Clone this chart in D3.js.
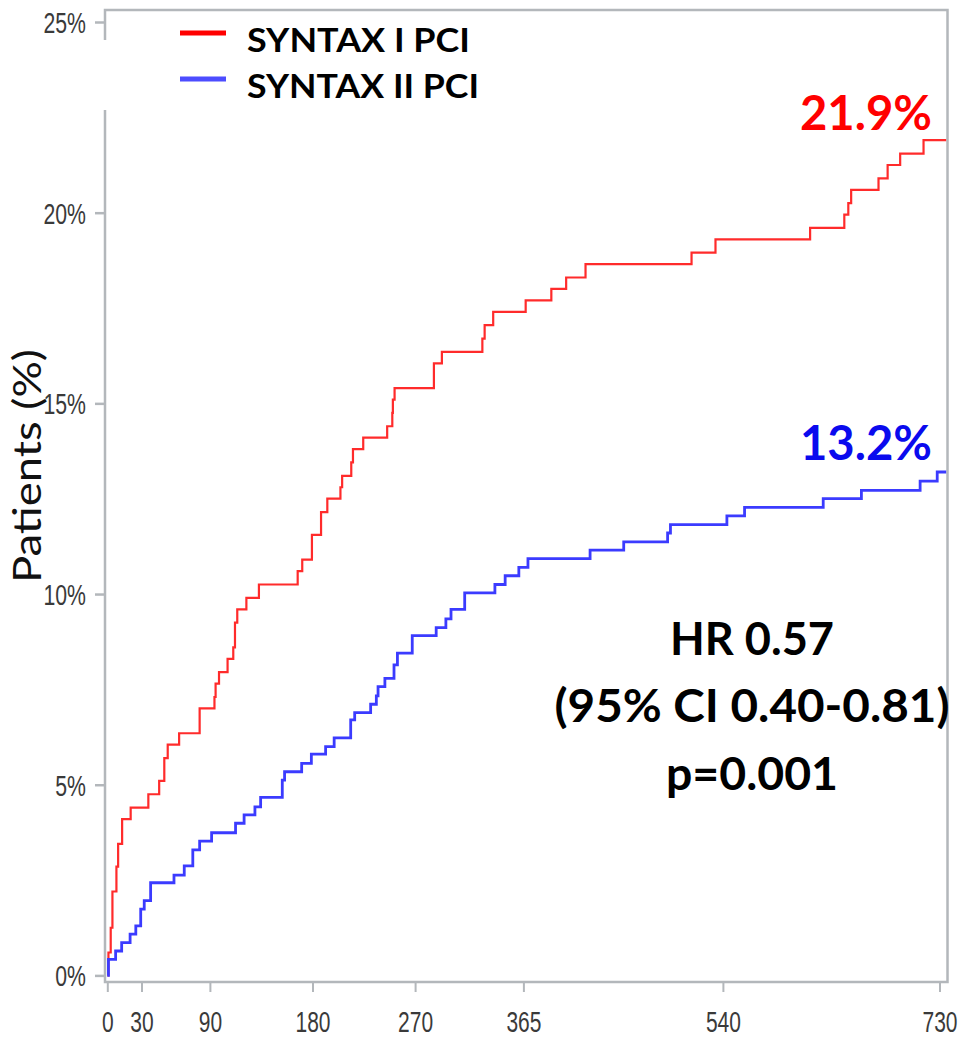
<!DOCTYPE html>
<html>
<head>
<meta charset="utf-8">
<script src="https://cdn.jsdelivr.net/npm/d3@7"></script>
<style>
  body { margin: 0; background: #fff; }
  svg { display: block; }
</style>
</head>
<body>
<script>
// ---- Data -------------------------------------------------------------
const dayTicks = [0, 30, 90, 180, 270, 365, 540, 730];
const pctTicks = [0, 5, 10, 15, 20, 25];
const seriesNames = ["SYNTAX I PCI", "SYNTAX II PCI"];
const seriesColors = ["#ff2b2b", "#3b3bff"];
const legendColors = ["#ff0000", "#4d4dff"];
const labelColors = ["#ff0000", "#0a0aee"];
const followUpEnd = 736;

// Kaplan-Meier cumulative event rate, SYNTAX I PCI (day of step, % after step)
const syntax1Days = [0, 1, 3, 4.5, 8, 9.5, 13, 20.5, 36, 45.5, 50, 53, 63, 81, 94, 95, 98, 105.5,
  110.5, 112, 114, 122, 133, 167, 171, 179.5, 187.5, 193, 204.5, 206, 214, 215.5, 224.5, 245.5,
  250, 250.5, 252, 286.5, 293.5, 329, 331, 338.5, 367, 389.5, 402.5, 419.5, 512.5, 533.5, 616.5,
  646.5, 650, 652.5, 676.5, 684.5, 695.5, 716];
const syntax1Pct = [0, 0.6, 1.25, 2.2, 2.85, 3.45, 4.1, 4.4, 4.75, 5.1, 5.7, 6.05, 6.35, 7.0, 7.3,
  7.65, 7.95, 8.3, 8.6, 9.25, 9.6, 9.9, 10.25, 10.6, 10.9, 11.55, 12.15, 12.5, 12.8, 13.1, 13.45,
  13.8, 14.1, 14.4, 14.75, 15.1, 15.4, 16.05, 16.35, 16.7, 17.05, 17.4, 17.7, 18.0, 18.3, 18.65,
  18.95, 19.3, 19.6, 19.95, 20.25, 20.6, 20.9, 21.25, 21.55, 21.9];

// Kaplan-Meier cumulative event rate, SYNTAX II PCI
const syntax2Days = [0, 1, 7.3, 12.6, 20, 25, 29.3, 32.4, 38, 58.5, 67.5, 75, 81, 91.5, 112.5, 120,
  129.5, 134.5, 153.5, 155.5, 170.5, 179, 191.5, 199, 213.5, 217, 231, 236, 237.5, 243.5, 251.5,
  254.5, 267.5, 288.5, 297, 301.5, 313.5, 340, 349, 361, 369, 423.5, 453, 491.5, 494, 543.5, 559,
  628, 661.5, 713, 728];
const syntax2Pct = [0, 0.42, 0.64, 0.86, 1.08, 1.3, 1.74, 1.96, 2.43, 2.63, 2.87, 3.29, 3.52, 3.74,
  3.99, 4.21, 4.42, 4.67, 5.12, 5.34, 5.56, 5.8, 6.0, 6.23, 6.7, 6.89, 7.11, 7.33, 7.57, 7.79, 8.14,
  8.45, 8.91, 9.12, 9.35, 9.6, 10.03, 10.25, 10.48, 10.7, 10.93, 11.15, 11.37, 11.6, 11.82, 12.05,
  12.27, 12.5, 12.72, 12.96, 13.2];

const finalLabels = ["21.9%", "13.2%"];
const statLines = ["HR 0.57", "(95% CI 0.40-0.81)", "p=0.001"];
const axisTitle = "Patients (%)";

// ---- Layout -----------------------------------------------------------
const W = 960, H = 1037;
const frame = { left: 105, right: 947.5, top: 10, bottom: 982 };
const frameColor = "#b3b7bb";
const boldFont = "Lato, 'Open Sans', sans-serif";
const tickFont = "'Liberation Sans', Arial, sans-serif";

const x = d3.scaleLinear().domain([0, 730]).range([107.3, 939.5]);
const y = d3.scaleLinear().domain([0, 25]).range([975.4, 22]);

const svg = d3.select("body").append("svg")
  .attr("width", W).attr("height", H);

svg.append("rect").attr("width", W).attr("height", H).attr("fill", "#fff");

// plot frame
svg.append("rect")
  .attr("x", frame.left).attr("y", frame.top)
  .attr("width", frame.right - frame.left)
  .attr("height", frame.bottom - frame.top)
  .attr("fill", "none")
  .attr("stroke", frameColor)
  .attr("stroke-width", 2.5);

svg.append("clipPath").attr("id", "plot-area")
  .append("rect")
  .attr("x", frame.left).attr("y", frame.top)
  .attr("width", frame.right - frame.left - 1)
  .attr("height", frame.bottom - frame.top);

// ---- Axes -------------------------------------------------------------
const yAxis = d3.axisLeft(y).tickValues(pctTicks).tickSize(9).tickFormat(d => d + "%");
const gy = svg.append("g")
  .attr("transform", `translate(${frame.left - 1},0)`)
  .call(yAxis);
gy.select(".domain").remove();
gy.selectAll(".tick line").attr("stroke", frameColor).attr("stroke-width", 2.5);
gy.selectAll(".tick text")
  .attr("x", 0).attr("dy", null)
  .attr("y", 10.5)
  .attr("transform", "translate(-18,0) scale(0.72,1)")
  .attr("fill", "#3a3a3a")
  .style("font-family", tickFont)
  .style("font-size", "29.5px");

const xAxis = d3.axisBottom(x).tickValues(dayTicks).tickSize(10).tickFormat(d => d);
const gx = svg.append("g")
  .attr("transform", `translate(0,${frame.bottom})`)
  .call(xAxis);
gx.select(".domain").remove();
gx.selectAll(".tick line").attr("stroke", frameColor).attr("stroke-width", 2);
gx.selectAll(".tick text")
  .attr("y", 0).attr("dy", null)
  .attr("transform", "translate(0,50) scale(0.7,1)")
  .attr("fill", "#3a3a3a")
  .style("font-family", tickFont)
  .style("font-size", "30px");

// y axis title
svg.append("text")
  .attr("transform", `translate(41,${(350 + 582) / 2}) rotate(-90)`)
  .attr("text-anchor", "middle")
  .attr("textLength", 234)
  .attr("lengthAdjust", "spacingAndGlyphs")
  .style("font-family", "Lato, 'Open Sans', sans-serif")
  .style("font-size", "38px")
  .attr("fill", "#111")
  .text(axisTitle);

// ---- Curves -----------------------------------------------------------
const series = [
  syntax1Days.map((d, i) => [d, syntax1Pct[i]]),
  syntax2Days.map((d, i) => [d, syntax2Pct[i]])
].map(pts => pts.concat([[followUpEnd, pts[pts.length - 1][1]]]));

const line = d3.line()
  .x(d => x(d[0]))
  .y(d => y(d[1]))
  .curve(d3.curveStepAfter);

const curves = svg.append("g").attr("clip-path", "url(#plot-area)");
curves.selectAll("path")
  .data(series)
  .join("path")
  .attr("d", line)
  .attr("fill", "none")
  .attr("stroke", (d, i) => seriesColors[i])
  .attr("stroke-width", (d, i) => i === 0 ? 2.2 : 2.8)
  .attr("stroke-linejoin", "miter");

// end-of-follow-up values
const finalVals = [syntax1Pct[syntax1Pct.length - 1], syntax2Pct[syntax2Pct.length - 1]];
svg.selectAll("text.final")
  .data(finalLabels)
  .join("text")
  .attr("class", "final")
  .attr("x", 932)
  .attr("y", (d, i) => y(finalVals[i]) - (i === 0 ? 10 : 12))
  .attr("text-anchor", "end")
  .attr("textLength", 132)
  .attr("lengthAdjust", "spacingAndGlyphs")
  .attr("fill", (d, i) => labelColors[i])
  .style("font-family", boldFont)
  .style("font-weight", 700)
  .style("font-size", "47px")
  .text(d => d);

// ---- Legend -----------------------------------------------------------
svg.append("rect")
  .attr("x", frame.left - 3).attr("y", 40)
  .attr("width", 400).attr("height", 70)
  .attr("fill", "#fff");

const legendRows = [33, 79];
const legendWidths = [223, 232];
const legend = svg.append("g");
legend.selectAll("line")
  .data(seriesNames)
  .join("line")
  .attr("x1", 180).attr("x2", 226)
  .attr("y1", (d, i) => legendRows[i]).attr("y2", (d, i) => legendRows[i])
  .attr("stroke", (d, i) => legendColors[i])
  .attr("stroke-width", 5);
legend.selectAll("text")
  .data(seriesNames)
  .join("text")
  .attr("x", 247)
  .attr("y", (d, i) => legendRows[i] + 19)
  .attr("textLength", (d, i) => legendWidths[i])
  .attr("lengthAdjust", "spacingAndGlyphs")
  .attr("fill", "#000")
  .style("font-family", boldFont)
  .style("font-weight", 700)
  .style("font-size", "33px")
  .text(d => d);

// ---- Hazard ratio annotation -------------------------------------------
const statBaselines = [655, 722, 790];
const statWidths = [164, 395, 172];
svg.selectAll("text.stat")
  .data(statLines)
  .join("text")
  .attr("class", "stat")
  .attr("x", 752)
  .attr("y", (d, i) => statBaselines[i])
  .attr("text-anchor", "middle")
  .attr("textLength", (d, i) => statWidths[i])
  .attr("lengthAdjust", "spacingAndGlyphs")
  .attr("fill", "#000")
  .style("font-family", boldFont)
  .style("font-weight", 700)
  .style("font-size", "46px")
  .text(d => d);
</script>
</body>
</html>
